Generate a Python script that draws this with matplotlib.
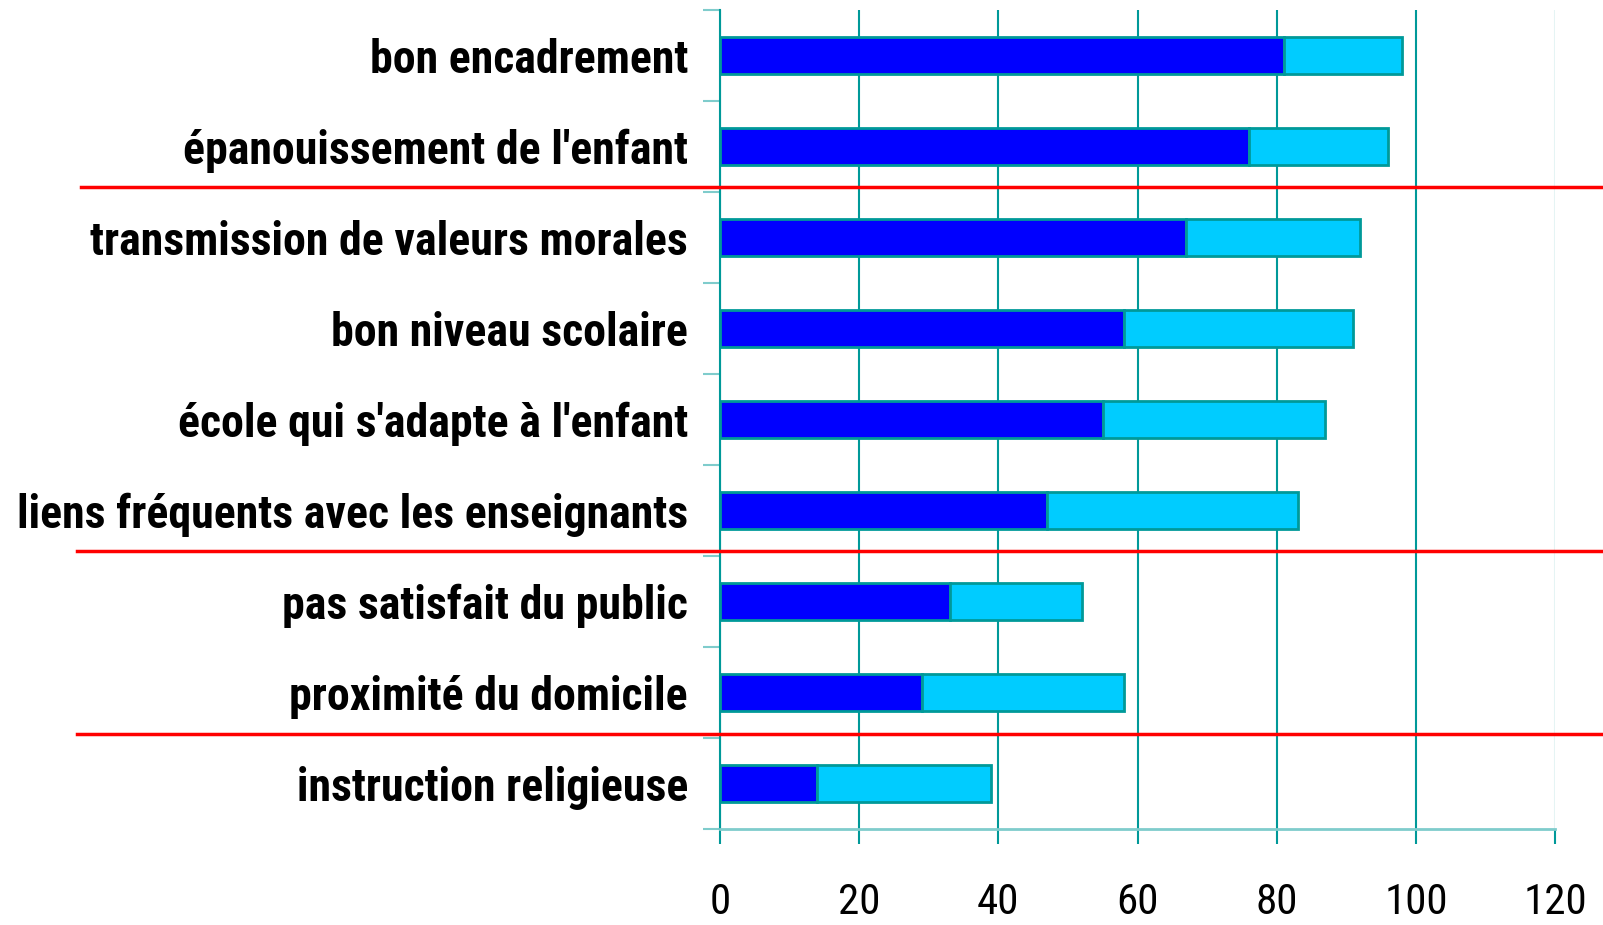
import matplotlib
matplotlib.use('Agg')
import matplotlib.pyplot as plt
from matplotlib import font_manager as fm
import numpy as np

# Données
categories = [
    "bon encadrement",
    "épanouissement de l'enfant",
    "transmission de valeurs morales",
    "bon niveau scolaire",
    "école qui s'adapte à l'enfant",
    "liens fréquents avec les enseignants",
    "pas satisfait du public",
    "proximité du domicile",
    "instruction religieuse",
]
dark_values = [81, 76, 67, 58, 55, 47, 33, 29, 14]
light_values = [17, 20, 25, 33, 32, 36, 19, 29, 25]
separators = [1.45, 5.45, 7.46]
x_ticks = [0, 20, 40, 60, 80, 100, 120]

# police étroite si disponible (style Arial Narrow), sinon repli
available = {f.name for f in fm.fontManager.ttflist}
narrow = None
for name in ['Roboto Condensed', 'PT Sans Narrow', 'Archivo Narrow']:
    if name in available:
        narrow = name
        break
if narrow:
    plt.rcParams['font.family'] = [narrow, 'DejaVu Sans']
    label_size, tick_size = 33, 31
else:
    plt.rcParams['font.family'] = ['Liberation Sans', 'DejaVu Sans']
    label_size, tick_size = 25, 27

fig = plt.figure(figsize=(16.03, 9.25), dpi=100)
ax = fig.add_axes([720 / 1603, 1 - 829 / 925, 835 / 1603, 819 / 925])

y_pos = np.arange(len(categories))
edge = '#009999'
ax.barh(y_pos, dark_values, height=0.4, color='#0000FF', edgecolor=edge, linewidth=2, zorder=3)
ax.barh(y_pos, light_values, left=dark_values, height=0.4, color='#00CCFF',
        edgecolor=edge, linewidth=2, zorder=3)

ax.set_xlim(0, 120)
ax.set_ylim(len(categories) - 0.5, -0.5)

# axe x
ax.set_xticks(x_ticks)
ax.set_xticklabels([str(t) for t in x_ticks], fontsize=tick_size)
ax.tick_params(axis='x', length=11, width=1.5, color=edge, pad=27)
ax.grid(axis='x', color=edge, linewidth=1.5, zorder=1)
ax.get_xgridlines()[-1].set_alpha(0.1)

# axe y : étiquettes au centre, graduations entre catégories
ax.set_yticks(y_pos)
ax.set_yticklabels(categories, fontsize=label_size, fontweight='bold')
ax.tick_params(axis='y', which='major', length=0, pad=23)
ax.set_yticks(np.arange(-0.5, len(categories)), minor=True)
ax.tick_params(axis='y', which='minor', length=12, width=1.5, color='#7fcccc')

for s in ['top', 'right']:
    ax.spines[s].set_visible(False)
ax.spines['left'].set_color(edge)
ax.spines['left'].set_linewidth(1.5)
ax.spines['bottom'].set_color('#7fcccc')
ax.spines['bottom'].set_linewidth(2)

# séparateurs rouges
for i, yy in enumerate(separators):
    start = -0.765 if i == 0 else -0.77
    ax.axhline(yy, xmin=start, xmax=1.06, color='#FF0000', linewidth=2.5, clip_on=False, zorder=4)

fig.savefig('out.png', dpi=100, facecolor='white')
plt.close(fig)
